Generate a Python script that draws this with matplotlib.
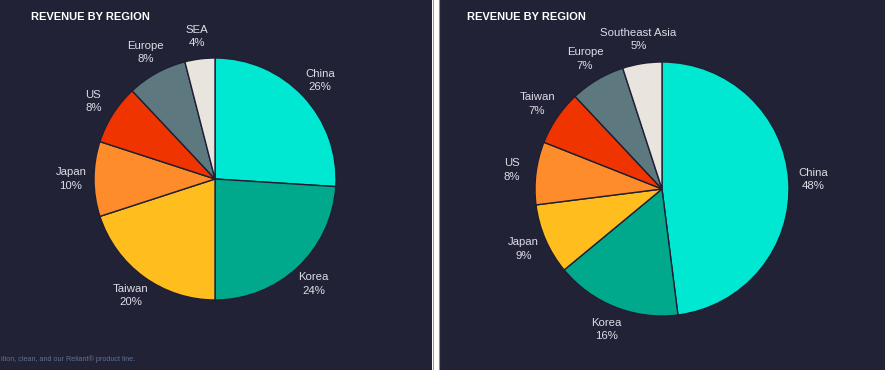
import matplotlib
matplotlib.use("Agg")
import matplotlib.pyplot as plt
from matplotlib.patches import Rectangle
from matplotlib.lines import Line2D

plt.rcParams['font.family'] = ['Liberation Sans', 'DejaVu Sans']

# data
left_regions = ["China", "Korea", "Taiwan", "Japan", "US", "Europe", "SEA"]
left_share = [26, 24, 20, 10, 8, 8, 4]

right_regions = ["China", "Korea", "Japan", "US", "Taiwan", "Europe", "Southeast Asia"]
right_share = [48, 16, 9, 8, 7, 7, 5]

slice_colors = ["#00E8D2", "#00A98C", "#FFBE1E", "#FF8C2A", "#F03400", "#5E7880", "#E9E4DE"]

title = "REVENUE BY REGION"
footnote = "ition, clean, and our Reliant\u00ae product line."

BG = "#222236"
W, H = 885, 370


def draw_pie(fig, cx, cy, r, regions, share):
    k = 1.6
    side = 2 * r * k
    ax = fig.add_axes([(cx - side / 2) / W, (H - cy - side / 2) / H, side / W, side / H])
    ax.set_facecolor("none")
    labels = [f"{n}\n{v}%" for n, v in zip(regions, share)]
    wedges, texts = ax.pie(share, labels=labels, colors=slice_colors, startangle=90,
                           counterclock=False, labeldistance=1.19,
                           wedgeprops=dict(edgecolor="#1e1f33", linewidth=1.0),
                           textprops=dict(color="#dcdde6", fontsize=8.2, linespacing=1.4))
    for t in texts:
        t.set_ha("center")
        t.set_va("center")
    ax.set_xlim(-k, k)
    ax.set_ylim(-k, k)
    ax.axis("off")
    return ax


def main():
    fig = plt.figure(figsize=(W / 100, H / 100), dpi=100, facecolor="white")

    # panel backgrounds
    fig.add_artist(Rectangle((0, 0), 432 / W, 1, transform=fig.transFigure,
                             facecolor=BG, edgecolor="none", zorder=-5))
    fig.add_artist(Rectangle((439 / W, 0), 1 - 439 / W, 1, transform=fig.transFigure,
                             facecolor=BG, edgecolor="none", zorder=-5))
    fig.add_artist(Line2D([432.5 / W, 432.5 / W], [0, 1], transform=fig.transFigure,
                          color="#9a9aa4", linewidth=0.8, zorder=-4))
    fig.add_artist(Line2D([438.5 / W, 438.5 / W], [0, 1], transform=fig.transFigure,
                          color="#8a8a94", linewidth=0.8, zorder=-4))

    draw_pie(fig, 215, 179, 121, left_regions, left_share)
    draw_pie(fig, 662, 189, 127, right_regions, right_share)

    fig.text(31 / W, 1 - 17 / H, title, color="white", fontsize=8, fontweight="bold",
             ha="left", va="center")
    fig.text(467 / W, 1 - 17 / H, title, color="white", fontsize=8, fontweight="bold",
             ha="left", va="center")
    fig.text(135 / W, 1 - 359 / H, footnote, color="#5f7090", fontsize=5.2,
             ha="right", va="center")

    fig.savefig("out.png", dpi=100, facecolor=fig.get_facecolor())


main()
